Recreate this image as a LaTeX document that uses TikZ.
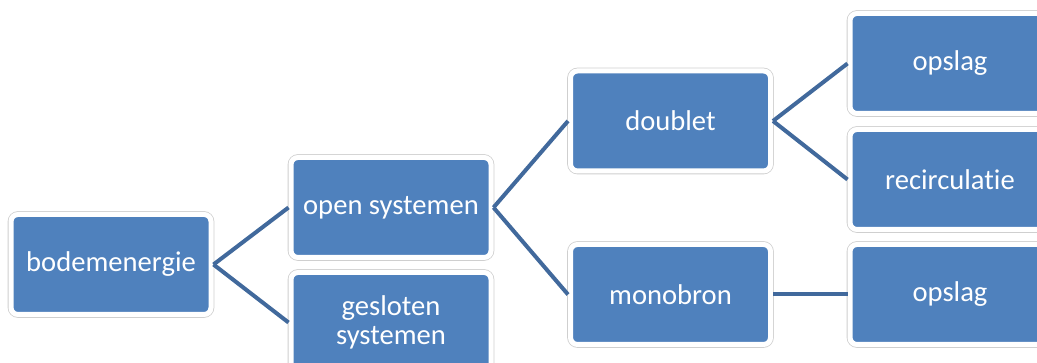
\documentclass[tikz,border=0pt]{standalone}
\usepackage{fontspec}
\setmainfont[Ligatures=NoCommon]{Carlito}
\definecolor{boxblue}{HTML}{4F81BD}
\definecolor{linkblue}{HTML}{41699C}
\definecolor{rimgray}{HTML}{CFCFCF}
\begin{document}
\begin{tikzpicture}[x=1pt,y=-1pt,
  box/.style={rectangle, rounded corners=7pt, minimum width=200pt, minimum height=100pt,
    fill=boxblue, draw=white, line width=5pt, text=white, align=center,
    font=\fontsize{28.6}{29}\selectfont,
    preaction={draw=rimgray, line width=6.6pt}},
  link/.style={draw=linkblue, line width=4pt}]
\useasboundingbox (0,0) rectangle (1037,363);
\clip (0,0) rectangle (1037,363);
\node[box] (bode) at (111,264.5) {bodemenergie};
\node[box] (open) at (391,207.5) {open systemen};
\node[box] (gesl) at (391,322.5) {gesloten\\systemen};
\node[box] (doub) at (670.5,121) {doublet};
\node[box] (mono) at (670.5,294.5) {monobron};
\node[box] (ops1) at (950,63.5) {opslag};
\node[box] (reci) at (950,179.5) {recirculatie};
\node[box] (ops2) at (950,294.5) {opslag};
\draw[link] (bode.east) -- (open.west);
\draw[link] (bode.east) -- (gesl.west);
\draw[link] (open.east) -- (doub.west);
\draw[link] (open.east) -- (mono.west);
\draw[link] (doub.east) -- (ops1.west);
\draw[link] (doub.east) -- (reci.west);
\draw[link] (mono.east) -- (ops2.west);
\end{tikzpicture}
\end{document}
